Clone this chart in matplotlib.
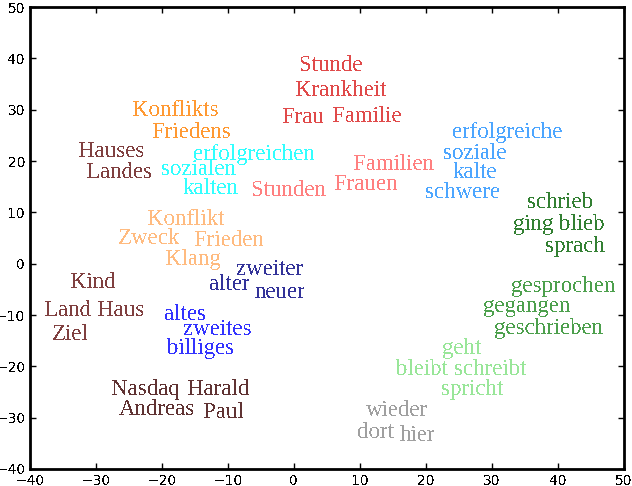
import matplotlib
matplotlib.use("Agg")
from matplotlib import pyplot as plt

# words of the embedding, grouped by cluster
words = ["Stunde", "Krankheit", "Frau", "Familie",
         "Konflikts", "Friedens",
         "Hauses", "Landes",
         "erfolgreichen", "sozialen", "kalten",
         "Stunden", "Familien", "Frauen",
         "erfolgreiche", "soziale", "kalte", "schwere",
         "schrieb", "ging", "blieb", "sprach",
         "Konflikt", "Zweck", "Frieden", "Klang",
         "Kind", "Land", "Haus", "Ziel",
         "zweiter", "alter", "neuer",
         "altes", "zweites", "billiges",
         "Nasdaq", "Harald", "Andreas", "Paul",
         "gesprochen", "gegangen", "geschrieben",
         "geht", "bleibt", "schreibt", "spricht",
         "wieder", "dort", "hier"]
xs = [5.6, 7.1, 1.4, 11.1,
      -18.0, -15.5,
      -27.6, -26.4,
      -6.1, -14.4, -12.6,
      -0.8, 15.2, 10.9,
      32.4, 27.4, 27.4, 25.6,
      40.3, 36.2, 43.6, 42.6,
      -16.4, -22.0, -9.8, -15.3,
      -30.5, -34.2, -26.2, -33.9,
      -3.6, -9.8, -2.1,
      -16.5, -11.5, -14.2,
      -22.4, -11.5, -20.8, -10.6,
      40.8, 35.2, 38.6,
      25.5, 19.4, 29.8, 27.0,
      15.6, 12.4, 18.8]
ys = [39.1, 34.2, 29.0, 29.2,
      30.3, 26.0,
      22.3, 18.2,
      21.8, 18.8, 15.1,
      14.7, 19.8, 15.9,
      26.0, 21.9, 18.2, 14.3,
      12.4, 8.1, 8.1, 3.8,
      9.1, 5.4, 5.0, 1.3,
      -3.2, -8.6, -8.6, -13.3,
      -0.65, -3.6, -5.1,
      -9.4, -12.3, -16.0,
      -24.0, -24.0, -27.9, -28.5,
      -4.0, -7.9, -12.1,
      -16.1, -20.1, -20.1, -24.0,
      -28.1, -32.4, -33.0]
groups = [0, 0, 0, 0,
          1, 1,
          2, 2,
          3, 3, 3,
          4, 4, 4,
          5, 5, 5, 5,
          6, 6, 6, 6,
          7, 7, 7, 7,
          2, 2, 2, 2,
          8, 8, 8,
          9, 9, 9,
          10, 10, 10, 10,
          11, 11, 11,
          12, 12, 12, 12,
          13, 13, 13]
colors = ["#e04a4a", "#ff9933", "#804040", "#33ffff", "#ff8080",
          "#4da6ff", "#338033", "#ffbb80", "#333399", "#3333ff",
          "#603333", "#4da04d", "#99e699", "#a0a0a0"]

plt.rcParams['text.antialiased'] = False

fig = plt.figure(figsize=(6.32, 4.86), dpi=100)
ax = fig.add_axes([0.0475, 0.035, 0.9395, 0.9505])

for w, x, y, g in zip(words, xs, ys, groups):
    ax.text(x, y, w, color=colors[g], fontsize=16.5, family="Liberation Serif",
            ha="center", va="center_baseline")

ax.set_xlim(-40, 50)
ax.set_ylim(-40, 50)
ax.set_xticks(range(-40, 51, 10))
ax.set_yticks(range(-40, 51, 10))
ax.tick_params(direction="in", top=True, right=True, length=4, width=1, labelsize=10)
for s in ax.spines.values():
    s.set_linewidth(2)

plt.savefig("out.png", dpi=100)
